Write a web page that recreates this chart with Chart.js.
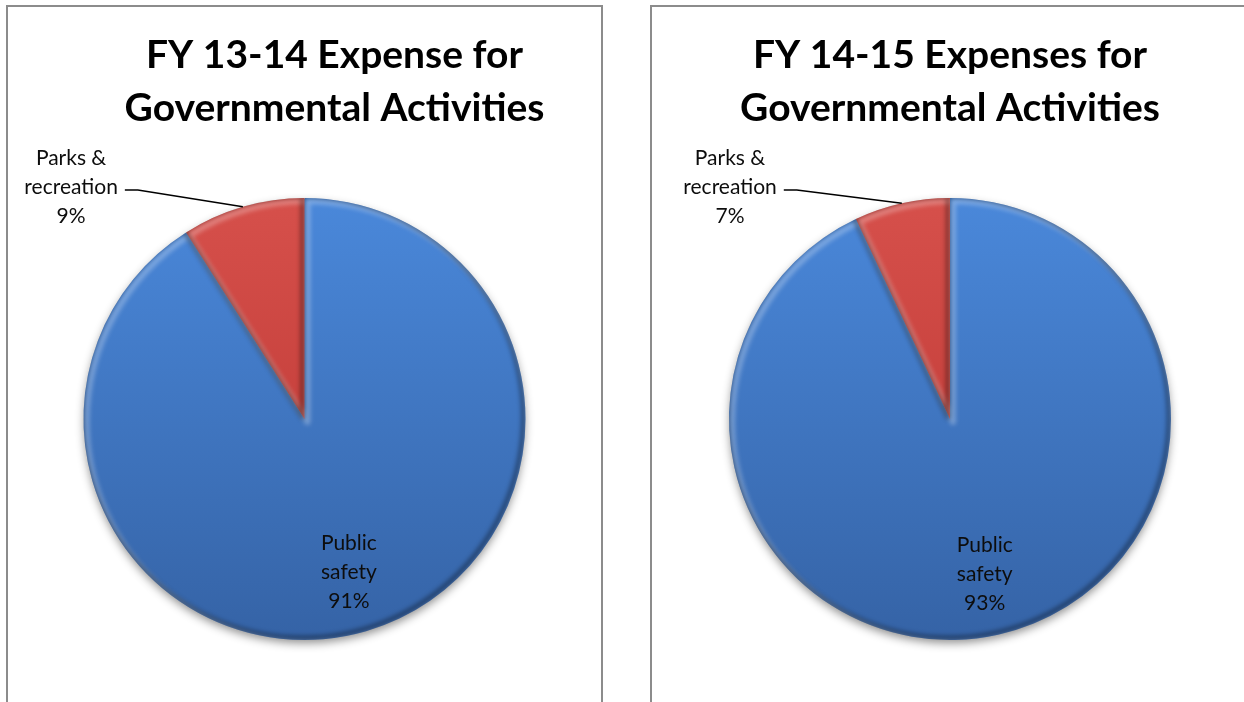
<!DOCTYPE html>
<html>
<head>
<meta charset="utf-8">
<title>Expenses for Governmental Activities</title>
<script src="https://cdn.jsdelivr.net/npm/chart.js@4.4.0/dist/chart.umd.min.js"></script>
<style>
  html, body { margin: 0; padding: 0; background: #fff; overflow: hidden; }
  .panel { position: absolute; top: 5px; height: 720px; border: 2px solid #8c8c8c; border-bottom: none; background: #fff; }
  #panelLeft { left: 6px; width: 593px; }
  #panelRight { left: 650px; width: 620px; border-right: none; }
  canvas { display: block; }
</style>
</head>
<body>
<div class="panel" id="panelLeft"><canvas id="chartFY1314" width="593" height="695"></canvas></div>
<div class="panel" id="panelRight"><canvas id="chartFY1415" width="596" height="695"></canvas></div>

<script>
// Data
const categories = ['Public safety', 'Parks & recreation'];
const labelLines = [['Public', 'safety'], ['Parks &', 'recreation']];
const fy1314Values = [91, 9];
const fy1415Values = [93, 7];
const fy1314Title = ['FY 13-14 Expense for', 'Governmental Activities'];
const fy1415Title = ['FY 14-15 Expenses for', 'Governmental Activities'];

// top / bottom shades for each slice
const sliceColors = [['#4a88da', '#3563a6'], ['#d6504b', '#b8332f']];

const PIE_RADIUS = 221;
const LINE_GAP = 29;
const OUTSIDE_BELOW = 0.15; // slices smaller than this get a leader line

function sliceFill(ctx) {
    const colors = sliceColors[ctx.dataIndex];
    const area = ctx.chart.chartArea;
    if (!area) return colors[0];
    const cy = (area.top + area.bottom) / 2;
    const g = ctx.chart.ctx.createLinearGradient(0, cy - PIE_RADIUS, 0, cy + PIE_RADIUS);
    g.addColorStop(0, colors[0]);
    g.addColorStop(1, colors[1]);
    return g;
}

// Move the title sideways without moving the pie
const titleOffset = {
    id: 'titleOffset',
    afterLayout(chart, args, opts) {
        const t = chart.titleBlock;
        if (t && opts.dx) {
            t.left += opts.dx;
            t.right += opts.dx;
        }
    }
};

// Soft drop shadow under the whole pie
const pieShadow = {
    id: 'pieShadow',
    beforeDatasetsDraw(chart) {
        const arc = chart.getDatasetMeta(0).data[0];
        if (!arc) return;
        const ctx = chart.ctx;
        ctx.save();
        ctx.shadowColor = 'rgba(0, 0, 0, 0.45)';
        ctx.shadowBlur = 10;
        ctx.shadowOffsetY = 4;
        ctx.fillStyle = '#3a6ab0';
        ctx.beginPath();
        ctx.arc(arc.x, arc.y, arc.outerRadius - 1, 0, Math.PI * 2);
        ctx.fill();
        ctx.restore();
    }
};

// Bevel: light edge on the upper-left sides, dark on the lower-right
const pieBevel = {
    id: 'pieBevel',
    afterDatasetsDraw(chart) {
        const ctx = chart.ctx;
        chart.getDatasetMeta(0).data.forEach(arc => {
            const {x, y, startAngle, endAngle, outerRadius: r} = arc;
            const path = new Path2D();
            path.moveTo(x, y);
            path.arc(x, y, r, startAngle, endAngle);
            path.closePath();

            ctx.save();
            ctx.clip(path);
            ctx.filter = 'blur(2px)';
            ctx.lineJoin = 'round';

            ctx.save();
            ctx.translate(3, 3);
            ctx.lineWidth = 6;
            ctx.strokeStyle = 'rgba(255, 255, 255, 0.28)';
            ctx.stroke(path);
            ctx.restore();

            ctx.save();
            ctx.translate(-2, -2);
            ctx.lineWidth = 5;
            ctx.strokeStyle = 'rgba(0, 0, 0, 0.35)';
            ctx.stroke(path);
            ctx.restore();

            ctx.restore();
        });
    }
};

// Category name + percentage on each slice
const sliceLabels = {
    id: 'sliceLabels',
    afterDatasetsDraw(chart) {
        const ctx = chart.ctx;
        const values = chart.data.datasets[0].data;
        const total = values.reduce((a, b) => a + b, 0);

        ctx.save();
        ctx.font = '21px Lato';
        ctx.fillStyle = '#0d0d0d';
        ctx.textAlign = 'center';
        ctx.textBaseline = 'middle';

        chart.getDatasetMeta(0).data.forEach((arc, i) => {
            const share = values[i] / total;
            const lines = labelLines[i].concat(Math.round(share * 100) + '%');
            const {x, y, startAngle, endAngle, outerRadius: r} = arc;
            const mid = (startAngle + endAngle) / 2;

            if (share >= OUTSIDE_BELOW) {
                const lx = x + Math.cos(mid) * r * 0.72;
                const ly = y + Math.sin(mid) * r * 0.72;
                lines.forEach((t, k) => ctx.fillText(t, lx, ly + (k - 1) * LINE_GAP));
            } else {
                // leader line from the rim up and out to the left
                const px = x + Math.cos(mid) * r;
                const py = y + Math.sin(mid) * r;
                const ex = px - 105;
                const ey = y - r - 8;
                ctx.strokeStyle = '#000';
                ctx.lineWidth = 1.5;
                ctx.beginPath();
                ctx.moveTo(px, py);
                ctx.lineTo(ex, ey);
                ctx.lineTo(ex - 13, ey);
                ctx.stroke();

                const w = Math.max(...lines.map(t => ctx.measureText(t).width));
                const cx = ex - 20 - w / 2;
                lines.forEach((t, k) => ctx.fillText(t, cx, ey - 3 + (k - 1) * LINE_GAP));
            }
        });
        ctx.restore();
    }
};

function makePie(canvasId, values, title, titleShift) {
    return new Chart(document.getElementById(canvasId), {
        type: 'pie',
        data: {
            labels: categories,
            datasets: [{
                data: values,
                backgroundColor: sliceFill,
                borderWidth: 0,
                radius: PIE_RADIUS
            }]
        },
        options: {
            responsive: false,
            animation: false,
            events: [],
            layout: {
                padding: { bottom: 8.5 }
            },
            plugins: {
                legend: { display: false },
                tooltip: { enabled: false },
                title: {
                    display: true,
                    text: title,
                    color: '#000',
                    font: { family: 'Lato', size: 39, weight: 'bold', lineHeight: '53px' },
                    padding: { top: 21.5, bottom: 10 }
                },
                titleOffset: { dx: titleShift }
            }
        },
        plugins: [titleOffset, pieShadow, pieBevel, sliceLabels]
    });
}

makePie('chartFY1314', fy1314Values, fy1314Title, 30);
makePie('chartFY1415', fy1415Values, fy1415Title, 0);
</script>
</body>
</html>
